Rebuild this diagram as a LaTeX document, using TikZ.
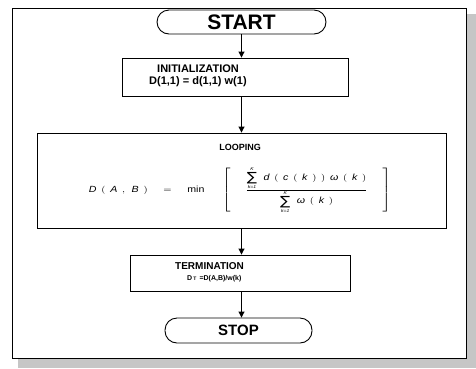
\documentclass[tikz,border=0pt]{standalone}
\usepackage{fontspec}
\setmainfont{Liberation Sans}
\setsansfont{Liberation Sans}
\newfontfamily\symfont{DejaVu Sans}
\usetikzlibrary{arrows.meta}
\newcommand{\vi}[1]{\textit{#1}}
\newcommand{\gsp}{\hskip 0.45em}
\newcommand{\stsum}{\mathop{\vcenter{\offinterlineskip\halign{\hfil##\hfil\cr
  \hbox{\fontsize{4}{4}\selectfont\itshape K}\cr\noalign{\kern1.5pt}
  \hbox{\symfont\fontsize{12}{12}\selectfont ∑}\cr\noalign{\kern1.5pt}
  \hbox{\fontsize{4}{4}\selectfont\itshape k=1}\cr}}}}
\begin{document}
\begin{tikzpicture}[x=1pt,y=-1pt,
  box/.style={draw,line width=0.9pt,inner sep=0pt},
  term/.style={draw,line width=0.9pt,rounded corners=12pt,inner sep=0pt},
  flow/.style={line width=0.9pt,-{Triangle[length=6pt,width=6pt]}},
  lbl/.style={inner sep=0pt,font=\bfseries}]
\useasboundingbox (0,0) rectangle (476,368);
% shadow and frame
\fill[gray!45] (466,14) rectangle (476,368);
\fill[gray!45] (18,358) rectangle (476,368);
\draw[line width=0.8pt,fill=white] (12,8) rectangle (466,358);
% nodes
\node[term,minimum width=169pt,minimum height=24pt,font=\bfseries\fontsize{21}{22}\selectfont] (start) at (241.5,22) {START};
\node[box,minimum width=226pt,minimum height=38pt] (init) at (235,77) {};
\node[lbl,anchor=base west,font=\bfseries\fontsize{11}{12}\selectfont] (initT) at (157,72) {INITIALIZATION};
\node[lbl,anchor=base west,font=\bfseries\fontsize{11}{12}\selectfont] (initF) at (149,84.5) {D(1,1) = d(1,1) w(1)};
\node[box,minimum width=409pt,minimum height=95pt] (loop) at (241.5,180.5) {};
\node[lbl,anchor=base,font=\bfseries\fontsize{9}{10}\selectfont] (loopT) at (240,150) {LOOPING};
\node[inner sep=0pt,anchor=center] (loopF) at (240,190)
  {\fontsize{8.5}{10}\selectfont\scalebox{1.25}[1.05]{$\displaystyle \vi{D}\gsp(\gsp\vi{A}\gsp,\gsp\vi{B}\gsp)\hskip1.2em=\hskip1.2em\mathrm{min}\hskip1.5em\left[\hskip1.4em\frac{\stsum\gsp\vi{d}\gsp(\gsp\vi{c}\gsp(\gsp\vi{k}\gsp)\gsp)\gsp\vi{ω}\gsp(\gsp\vi{k}\gsp)}{\stsum\gsp\vi{ω}\gsp(\gsp\vi{k}\gsp)}\hskip1.4em\right]$}};
\node[box,minimum width=220pt,minimum height=36pt] (termb) at (240,273) {};
\node[lbl,anchor=base west,font=\bfseries\fontsize{10}{11}\selectfont] (termT) at (175,269) {TERMINATION};
\node[lbl,anchor=base west,font=\bfseries\fontsize{7}{8}\selectfont] (termF) at (187,280) {D\,\raisebox{-0.5pt}{\fontsize{5}{6}\selectfont T}\, =D(A,B)/w(k)};
\node[term,minimum width=147pt,minimum height=25pt,font=\bfseries\fontsize{15}{16}\selectfont] (stop) at (238.5,330.5) {STOP};
% connectors
\draw[flow] (start.south) -- (start.south |- init.north);
\draw[flow] (start.south |- init.south) -- (start.south |- loop.north);
\draw[flow] (start.south |- loop.south) -- (start.south |- termb.north);
\draw[flow] (start.south |- termb.south) -- (start.south |- stop.north);
\end{tikzpicture}
\end{document}
